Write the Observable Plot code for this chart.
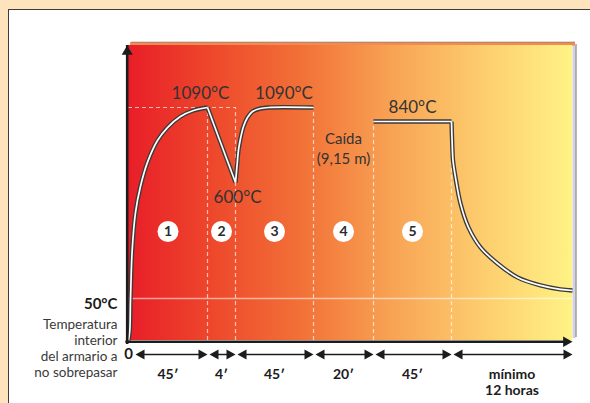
<!DOCTYPE html>
<html><head><meta charset="utf-8">
<script src="https://cdn.jsdelivr.net/npm/d3@7"></script>
<script src="https://cdn.jsdelivr.net/npm/@observablehq/plot@0.6"></script>
<style>
html,body{margin:0;padding:0;width:590px;height:403px;overflow:hidden;background:#fde4bc;}
#panel{position:absolute;left:8px;top:9px;width:700px;height:500px;background:#fff;border:1.5px solid #3c3c3c;}
#chart{position:absolute;left:0;top:0;}
</style></head><body><div id="panel"></div><div id="chart"></div>
<script>
// ---- data ----
const phaseBreaks = [0, 45, 49, 94, 114, 159, 879];          // minutes (last phase: 12 h = 720 min)
const phaseLabels = ["45′", "4′", "45′", "20′", "45′", "mínimo\n12 horas"];
const stepNumbers = ["1", "2", "3", "4", "5"];
const tempBreaks = [0, 50, 600, 840, 1090, 1250];            // °C (schematic, non-linear)

const heatUpMin  = [0, 0.74, 1.14, 2.1, 4.0, 6.8, 10.8, 16.5, 22.2, 29.6, 37.0, 45];
const heatUpTemp = [0, 12, 48, 278, 458, 581, 679, 765, 816, 929, 1036, 1090];
const dropMin  = [45, 49];
const dropTemp = [1090, 600];
const reheatMin  = [49, 50.0, 50.7, 51.9, 53.6, 55.9, 58.8, 63.4, 68, 94];
const reheatTemp = [600, 675, 726, 773, 820, 911, 1018, 1072, 1090, 1090];
const plateauMin  = [114, 159];
const plateauTemp = [840, 840];
const coolMin  = [159, 163.2, 167.9, 182.8, 212.6, 260, 331.6, 432.7, 551.7, 688.6, 807.6, 879];
const coolTemp = [840, 753, 687, 620, 500, 387, 292, 216, 150, 112, 93, 88];

const peakLabels = ["1090°C", "1090°C", "840°C"];
const peakMin    = [41, 77, 136.5];
const peakTemp   = [1090, 1090, 840];
const dipLabel = "600°C", dipMin = 50.2, dipTemp = 600;
const dropText = "Caída\n(9,15 m)";
const limitTemp = 50;
const limitLabel = "50°C";
const limitText = "Temperatura\ninterior\ndel armario a\nno sobrepasar";
const guideTops = [[45, 1090], [49, 1090], [94, 1090], [114, 840], [159, 840]];

// ---- derived tables ----
const pts = (xs, ys) => xs.map((x, i) => ({x, y: ys[i]}));
const heatUp = pts(heatUpMin, heatUpTemp), drop = pts(dropMin, dropTemp),
      reheat = pts(reheatMin, reheatTemp), plateau = pts(plateauMin, plateauTemp),
      cool = pts(coolMin, coolTemp);
const xMin = phaseBreaks[0], xMax = phaseBreaks[phaseBreaks.length - 1];
const yTop = tempBreaks[tempBreaks.length - 1];
const phases = d3.pairs(phaseBreaks).map(([a, b], i) => ({a, b, mid: (a + b) / 2, label: phaseLabels[i]}));
const steps = stepNumbers.map((n, i) => ({n, x: phases[i].mid, y: limitTemp}));
const peaks = peakLabels.map((t, i) => ({t, x: peakMin[i], y: peakTemp[i]}));
const guides = guideTops.map(([x, y]) => ({x, y}));

// arrow-head symbols with tip at the anchor
const headR = {draw(c, s) { const r = Math.sqrt(s / Math.PI); c.moveTo(0, 0); c.lineTo(-1.8 * r, -r); c.lineTo(-1.8 * r, r); c.closePath(); }};
const headL = {draw(c, s) { const r = Math.sqrt(s / Math.PI); c.moveTo(0, 0); c.lineTo(1.8 * r, -r); c.lineTo(1.8 * r, r); c.closePath(); }};
const headU = {draw(c, s) { const r = Math.sqrt(s / Math.PI); c.moveTo(0, 0); c.lineTo(-r, 1.7 * r); c.lineTo(r, 1.7 * r); c.closePath(); }};

const gradStops = [[0, "#e81e28"], [0.2, "#ee4a2c"], [0.4, "#f27338"], [0.6, "#f8a455"], [0.8, "#fdcd6e"], [1, "#fff285"]];
const ink = "#1c1c1c";
const lineDark = "#3a3a3a";
const curves = [[heatUp, "catmull-rom"], [drop, "linear"], [reheat, "catmull-rom"], [plateau, "linear"], [cool, "catmull-rom"]];

const chart = Plot.plot({
  width: 590, height: 403, margin: 0,
  x: {type: "linear", domain: phaseBreaks, range: [128, 207, 235, 313, 373, 451, 572], axis: null},
  y: {type: "linear", domain: tempBreaks, range: [340, 298, 182, 121, 107, 45], axis: null},
  style: {background: "transparent", overflow: "visible", fontFamily: "Lato, 'Open Sans', sans-serif"},
  marks: [
    () => {
      const defs = d3.create("svg:defs");
      const g = defs.append("linearGradient").attr("id", "heat").attr("x1", 0).attr("x2", 1).attr("y1", 0).attr("y2", 0);
      gradStops.forEach(([o, c]) => g.append("stop").attr("offset", o).attr("stop-color", c));
      return defs.node();
    },
    // 3D edges
    Plot.ruleY([{y: yTop}], {y: "y", x1: xMin, x2: xMax, stroke: "#f48a4e", strokeWidth: 3.5, dy: -1.5, insetLeft: 2, insetRight: -3}),
    Plot.ruleY([{y: yTop}], {y: "y", x1: xMin, x2: xMax, stroke: "#8a6a5a", strokeWidth: 0.8, dy: -3.3, insetLeft: 3, insetRight: -3}),
    Plot.ruleX([{x: xMax}], {x: "x", y1: 0, y2: yTop, stroke: "#d2d2e2", strokeWidth: 3, dx: 1.5, insetTop: -2, insetBottom: -1}),
    Plot.ruleX([{x: xMax}], {x: "x", y1: 0, y2: yTop, stroke: "#6e6e6e", strokeWidth: 1, dx: 3.5, insetTop: -3, insetBottom: 1}),
    // heat gradient panel
    Plot.rect([{x1: xMin, x2: xMax, y1: 0, y2: yTop}], {x1: "x1", x2: "x2", y1: "y1", y2: "y2", fill: "url(#heat)"}),
    // limit line
    Plot.ruleY([{y: limitTemp}], {y: "y", x1: xMin, x2: xMax, stroke: "#fff", strokeOpacity: 0.55, strokeWidth: 1.6}),
    // dashed guides
    Plot.ruleY([{y: 1090}], {y: "y", x1: xMin, x2: 49, stroke: "#fff", strokeOpacity: 0.65, strokeWidth: 1.2, strokeDasharray: "4,3"}),
    Plot.ruleX(guides, {x: "x", y1: 0, y2: "y", stroke: "#fff", strokeOpacity: 0.65, strokeWidth: 1.2, strokeDasharray: "4,3"}),
    // temperature curve (double line)
    ...curves.map(([d, c]) => Plot.line(d, {x: "x", y: "y", curve: c, stroke: lineDark, strokeWidth: 4.4, strokeLinecap: "butt", strokeLinejoin: "miter"})),
    ...curves.map(([d, c]) => Plot.line(d, {x: "x", y: "y", curve: c, stroke: "#fff", strokeWidth: 1.7, strokeLinecap: "butt", strokeLinejoin: "miter"})),
    // axes
    Plot.ruleX([{x: xMin}], {x: "x", y1: 0, y2: yTop, stroke: ink, strokeWidth: 2.6, dx: -1.3, insetTop: 4}),
    Plot.ruleY([{y: 0}], {y: "y", x1: xMin, x2: xMax, stroke: ink, strokeWidth: 2.6, dy: 1.3, insetLeft: -2.6, insetRight: 4}),
    Plot.dot([{x: xMin, y: yTop}], {x: "x", y: "y", symbol: headU, r: 5.5, fill: ink, stroke: "none", dx: -1.3}),
    Plot.dot([{x: xMax, y: 0}], {x: "x", y: "y", symbol: headR, r: 5.2, fill: ink, stroke: "none", dy: 1.3}),
    // phase duration arrows
    Plot.ruleY(phases.slice(0, 1), {y: () => 0, x1: "a", x2: "b", stroke: ink, strokeWidth: 1.5, dy: 14, insetLeft: 10, insetRight: 4}),
    Plot.ruleY(phases.slice(1), {y: () => 0, x1: "a", x2: "b", stroke: ink, strokeWidth: 1.5, dy: 14, insetLeft: 5, insetRight: 4}),
    Plot.dot(phases, {x: "b", y: () => 0, symbol: headR, r: 5, fill: ink, stroke: "none", dy: 14}),
    Plot.dot(phases.slice(1), {x: "a", y: () => 0, symbol: headL, r: 5, fill: ink, stroke: "none", dy: 14, dx: 2}),
    Plot.dot(phases.slice(0, 1), {x: "a", y: () => 0, symbol: headL, r: 5, fill: ink, stroke: "none", dy: 14, dx: 7}),
    Plot.text([{t: "0"}], {x: () => xMin, y: () => 0, text: "t", dy: 14, fontSize: 15, fontWeight: "bold", fill: ink}),
    Plot.text(phases, {x: "mid", y: () => 0, text: "label", dy: 27, lineAnchor: "top", lineHeight: 1.15, fontSize: 14, fontWeight: "bold", fill: ink}),
    // step numbers
    Plot.dot(steps, {x: "x", y: "y", r: 10.5, fill: "#fff", stroke: "none", dy: -67}),
    Plot.text(steps, {x: "x", y: "y", text: "n", dy: -67, fontSize: 14, fontWeight: "bold", fill: "#2a2a2a"}),
    // temperature labels
    Plot.text(peaks, {x: "x", y: "y", text: "t", dy: -14, fontSize: 17, fill: "#333"}),
    Plot.text([{t: dipLabel, x: dipMin, y: dipTemp}], {x: "x", y: "y", text: "t", dy: 15, fontSize: 17, fill: "#333"}),
    Plot.text([{t: dropText, x: phases[3].mid, y: 840}], {x: "x", y: "y", text: "t", dy: 26, fontSize: 15, lineHeight: 1.33, fill: "#333"}),
    // limit annotation
    Plot.text([{t: limitLabel, y: limitTemp}], {x: () => xMin, y: "y", text: "t", dx: -11, dy: 6, textAnchor: "end", fontSize: 15, fontWeight: "bold", fill: ink}),
    Plot.text([{t: limitText}], {x: () => xMin, y: () => 0, text: "t", dx: -11, dy: 7, textAnchor: "end", fontSize: 13.5, lineHeight: 1.185, fill: "#3a3a3a"})
  ]
});
document.getElementById("chart").append(chart);
</script></body></html>
